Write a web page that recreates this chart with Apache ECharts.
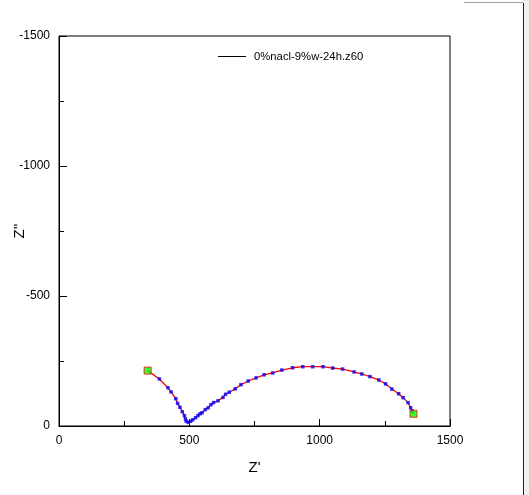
<!DOCTYPE html>
<html>
<head>
<meta charset="utf-8">
<script src="https://cdn.jsdelivr.net/npm/echarts@6/dist/echarts.min.js"></script>
<style>
html,body{margin:0;padding:0;background:#fff;}
#c{width:529px;height:495px;}
</style>
</head>
<body>
<div id="c"></div>
<script>
var seriesName = "0%nacl-9%w-24h.z60";
var zReal = [340,385,418,430,448,455,464,473,481,485,488,496,505,513,524,533,541,549,561,572,583,593,610,629,639,653,676,698,726,756,787,820,855,896,935,973,1013,1050,1088,1132,1162,1193,1227,1253,1277,1303,1320,1339,1349,1355,1360];
var zImag = [-213,-181,-147,-131,-105,-87,-72,-55,-40,-27,-18,-14,-18,-24,-32,-40,-47,-51,-63,-70,-82,-90,-97,-110,-122,-130,-143,-159,-173,-185,-197,-204,-215,-224,-228,-228,-228,-223,-219,-208,-200,-190,-177,-162,-142,-124,-109,-90,-70,-58,-47];
var xTicks = [0,500,1000,1500];
var yTicks = [-1500,-1000,-500,0];

var pts = zReal.map(function(x,i){return [x,zImag[i]];});
var inner = pts.slice(1, pts.length-1);
var ends = [pts[0], pts[pts.length-1]];

var chart = echarts.init(document.getElementById('c'), null, {renderer:'canvas'});
var font = 'Liberation Sans, Arial, sans-serif';
chart.setOption({
  animation:false,
  backgroundColor:'#fff',
  grid:{left:59,right:79,top:36,bottom:69,containLabel:false,outerBoundsMode:'none',show:true,borderColor:'#000',borderWidth:1,backgroundColor:'transparent'},
  legend:{
    data:[{name:seriesName,icon:'path://M0,0 L28,0 L28,1 L0,1 Z',itemStyle:{color:'#000'}}],
    left:213, top:46, itemWidth:28, itemHeight:1, itemGap:8,
    textStyle:{fontFamily:font,fontSize:11.3,color:'#000',padding:[0,0,0,3]}
  },
  xAxis:{
    type:'value',min:0,max:1500,interval:500,
    name:"Z'",nameLocation:'middle',nameGap:34,nameMoveOverlap:false,
    nameTextStyle:{fontFamily:font,fontSize:15,color:'#000'},
    axisLine:{show:true,lineStyle:{color:'#000',width:1}},
    axisTick:{show:true,inside:true,length:7,lineStyle:{color:'#000'}},
    minorTick:{show:true,splitNumber:2,length:5,lineStyle:{color:'#000'}},
    splitLine:{show:false},
    axisLabel:{margin:9,fontFamily:font,fontSize:12,color:'#000',
      formatter:function(v){return xTicks.indexOf(v)>=0?String(v):'';}}
  },
  yAxis:{
    type:'value',min:-1500,max:0,interval:500,inverse:true,
    name:"Z''",nameLocation:'middle',nameGap:32,nameMoveOverlap:false,
    nameTextStyle:{fontFamily:font,fontSize:15,color:'#000'},
    axisLine:{show:true,lineStyle:{color:'#000',width:1}},
    axisTick:{show:true,inside:true,length:8,lineStyle:{color:'#000'}},
    minorTick:{show:true,splitNumber:2,length:5,lineStyle:{color:'#000'}},
    splitLine:{show:false},
    axisLabel:{margin:9,fontFamily:font,fontSize:12,color:'#000',
      formatter:function(v){return yTicks.indexOf(v)>=0?String(v):'';}}
  },
  series:[
    {name:seriesName,type:'line',data:pts,showSymbol:false,symbol:'none',
     lineStyle:{color:'#ff0000',width:1.3},itemStyle:{color:'#000'},z:2},
    {name:'pts',type:'scatter',data:inner,symbol:'rect',symbolSize:3.5,
     itemStyle:{color:'#0000ff'},z:3},
    {name:'ends',type:'scatter',data:ends,symbol:'rect',symbolSize:7,
     itemStyle:{color:'#00ff00',borderColor:'#ff0000',borderWidth:1},z:4}
  ],
  graphic:[
    {type:'rect',shape:{x:523,y:0,width:6,height:495},style:{fill:'#f0f0f0'},silent:true},
    {type:'line',shape:{x1:523.5,y1:3,x2:523.5,y2:495},style:{stroke:'#222',lineWidth:1},silent:true},
    {type:'line',shape:{x1:464,y1:2.5,x2:523,y2:2.5},style:{stroke:'#a0a0a0',lineWidth:1},silent:true}
  ]
});
</script>
</body>
</html>
